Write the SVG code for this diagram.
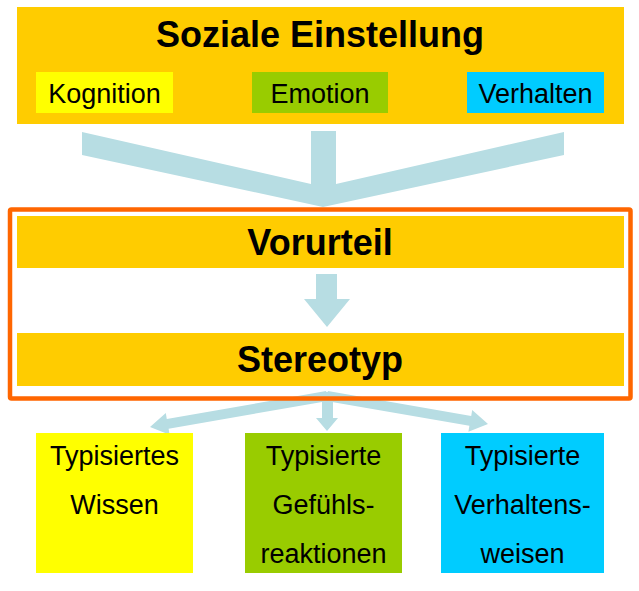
<svg xmlns="http://www.w3.org/2000/svg" width="639" height="591" viewBox="0 0 639 591">
<style>
.t{font-family:"Liberation Sans",Arial,sans-serif;fill:#000;text-anchor:middle}
.b{font-weight:bold;font-size:36px}
.n{font-size:27px}
.arr{fill:#B7DDE3}
</style>
<rect width="639" height="591" fill="#fff"/>
<g id="connectors">
<polygon class="arr" points="82,132 311,184 311,131 336,131 336,184 564,132 564,155 323,207 82,155"/>
<polygon class="arr" points="316,274 337,274 337,299 350,299 327,327 304,299 316,299"/>
<polygon class="arr" points="326.1,391.1 166.8,419.0 165.8,413.1 150,427 169.6,434.7 168.6,428.8 327.9,400.9"/>
<polygon class="arr" points="327.9,391.1 471.2,416.0 472.2,410.1 488,424 468.4,431.7 469.4,425.8 326.1,400.9"/>
<polygon class="arr" points="322,392 333,392 333,418 338,418 327,431 316,418 322,418"/>
</g>
<g id="soziale-einstellung">
<rect x="17" y="7" width="607" height="117" fill="#FFCC00"/>
<text class="t b" x="320" y="47">Soziale Einstellung</text>
</g>
<g id="kognition">
<rect x="36" y="72" width="137" height="41" fill="#FFFF00"/>
<text class="t n" x="104.5" y="103">Kognition</text>
</g>
<g id="emotion">
<rect x="252" y="72" width="136" height="41" fill="#99CC00"/>
<text class="t n" x="320" y="103">Emotion</text>
</g>
<g id="verhalten">
<rect x="467" y="72" width="137" height="41" fill="#00CCFF"/>
<text class="t n" x="535.5" y="103">Verhalten</text>
</g>
<g id="vorurteil">
<rect x="17" y="216" width="607" height="52" fill="#FFCC00"/>
<text class="t b" x="320" y="255">Vorurteil</text>
</g>
<g id="stereotyp">
<rect x="17" y="333" width="607" height="53" fill="#FFCC00"/>
<text class="t b" x="320" y="372">Stereotyp</text>
</g>
<g id="frame">
<rect x="10" y="209.5" width="620.5" height="189" rx="1.5" fill="none" stroke="#FF6600" stroke-width="4.5"/>
</g>
<g id="typisiertes-wissen">
<rect x="36" y="433" width="157" height="140" fill="#FFFF00"/>
<text class="t n" x="114.5" y="465">Typisiertes</text>
<text class="t n" x="114.5" y="514">Wissen</text>
</g>
<g id="typisierte-gefuehlsreaktionen">
<rect x="245" y="433" width="157" height="140" fill="#99CC00"/>
<text class="t n" x="323.5" y="465">Typisierte</text>
<text class="t n" x="323.5" y="514">Gefühls-</text>
<text class="t n" x="323.5" y="563">reaktionen</text>
</g>
<g id="typisierte-verhaltensweisen">
<rect x="441" y="433" width="163" height="140" fill="#00CCFF"/>
<text class="t n" x="522.5" y="465">Typisierte</text>
<text class="t n" x="522.5" y="514">Verhaltens-</text>
<text class="t n" x="522.5" y="563">weisen</text>
</g>
</svg>
